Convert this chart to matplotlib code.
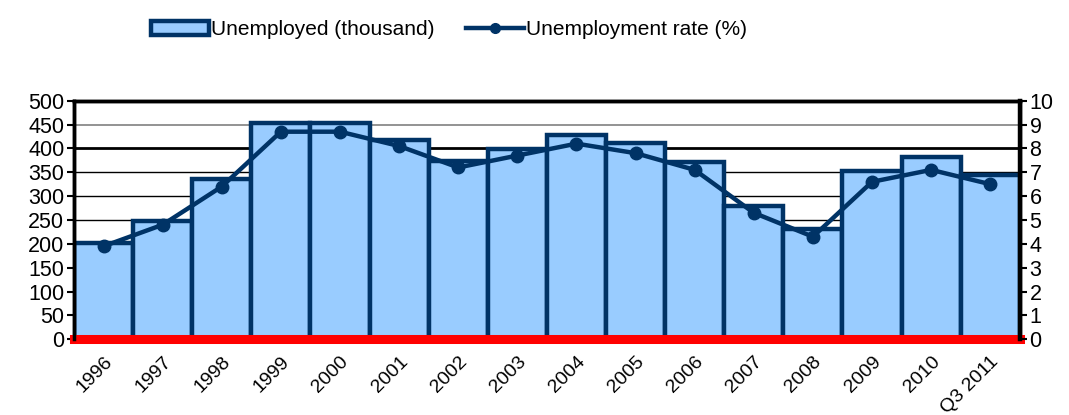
import matplotlib
matplotlib.use('Agg')
import matplotlib.pyplot as plt
import matplotlib.patches as mpatches
from matplotlib.lines import Line2D

plt.rcParams['font.family'] = ['Liberation Sans', 'DejaVu Sans']

# data
years = ['1996', '1997', '1998', '1999', '2000', '2001', '2002', '2003',
         '2004', '2005', '2006', '2007', '2008', '2009', '2010', 'Q3 2011']
unemployed = [201, 248, 336, 454, 454, 418, 374, 398,
              428, 412, 371, 279, 231, 353, 383, 345]
rate = [3.9, 4.8, 6.4, 8.7, 8.7, 8.1, 7.2, 7.7,
        8.2, 7.8, 7.1, 5.3, 4.3, 6.6, 7.1, 6.5]

NAVY = '#003366'
LIGHT = '#99CCFF'
RED = '#FF0000'

fig = plt.figure(figsize=(10.69, 4.15), dpi=100)
ax = fig.add_axes([0.0692, 0.1824, 0.8848, 0.575])
ax2 = ax.twinx()

x = list(range(len(years)))

# horizontal grid
for v in range(50, 500, 50):
    if v == 400:
        ax.axhline(v, color='black', lw=2.0, zorder=0)
    elif v == 450:
        ax.axhline(v, color='#808080', lw=1.2, zorder=0)
    else:
        ax.axhline(v, color='black', lw=1.0, zorder=0)

ax.bar(x, unemployed, width=1.0, color=LIGHT, edgecolor=NAVY,
       linewidth=3.2, zorder=2)
ax.axhline(0, color=RED, lw=6.5, zorder=5, clip_on=False)

ax2.plot(x, rate, color=NAVY, lw=3.2, marker='o', markersize=9,
         markeredgecolor=NAVY, zorder=3)

ax.set_xlim(-0.5, len(years) - 0.5)
ax.set_ylim(0, 500)
ax2.set_ylim(0, 10)
ax.set_yticks(range(0, 501, 50))
ax2.set_yticks(range(0, 11))

ax.set_xticks(x)
ax.set_xticklabels(years, rotation=45, ha='right', rotation_mode='anchor',
                   fontsize=14)
ax.tick_params(axis='x', length=0, pad=10)
ax.tick_params(axis='y', length=5, width=1.5, labelsize=15.5, pad=2)
ax2.tick_params(axis='y', length=5, width=1.5, labelsize=15.5, pad=2)

for a in (ax, ax2):
    a.spines['bottom'].set_visible(False)
    for s in ('left', 'right', 'top'):
        a.spines[s].set_color('black')
        a.spines[s].set_linewidth(2.5)
ax2.spines['right'].set_linewidth(3.2)

handles = [
    mpatches.Patch(facecolor=LIGHT, edgecolor=NAVY, linewidth=3.2),
    Line2D([], [], color=NAVY, lw=3.2, marker='o', markersize=7),
]
fig.legend(handles, ['Unemployed (thousand)', 'Unemployment rate (%)'],
           loc='center', bbox_to_anchor=(0.42, 0.928), ncol=2,
           frameon=False, fontsize=15, handlelength=2.8,
           handletextpad=0.1, columnspacing=1.5)

fig.savefig('out.png', dpi=100, facecolor='white')
